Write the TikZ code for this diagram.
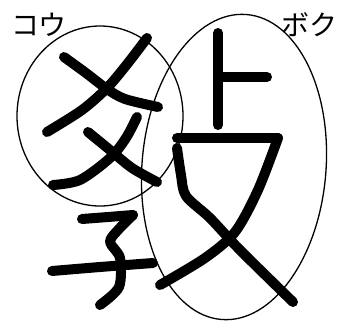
\documentclass[tikz,border=0pt]{standalone}
\usepackage{fontspec}
\newfontfamily\jp{Noto Sans CJK JP}
\begin{document}
\begin{tikzpicture}[x=1pt,y=-1pt,
  brush/.style={line width=10pt,line cap=round,line join=round},
  ring/.style={line width=1.3pt},
  kana/.style={font=\jp\fontsize{28}{28}\selectfont,inner sep=0pt}]
\useasboundingbox (0,0) rectangle (343,322);
% circles
\draw[ring] (100,116) ellipse [x radius=83, y radius=90];
\draw[ring] (234,167) ellipse [x radius=92, y radius=153, rotate=-4.7];
% labels
\node[kana] (kou) at (39,25) {コウ};
\node[kana] (boku) at (309,25) {ボク};
% 爻 upper
\draw[brush] plot[smooth] coordinates {(64,57) (86,73) (107,89) (125,99) (158,107)};
\draw[brush] plot[smooth] coordinates {(147,38) (128,63) (107,88) (82,110) (47,132)};
% 爻 lower
\draw[brush] plot[smooth] coordinates {(88,132) (110,150) (132,168) (157,182)};
\draw[brush] plot[smooth] coordinates {(137,117) (126,138) (110,158) (80,180) (53,185)};
% 子
\draw[brush] plot[smooth] coordinates {(82,219) (108,217) (133,215)};
\draw[brush] plot[smooth] coordinates {(133,215) (118,230) (110,242) (120,258) (119,287) (100,305)};
\draw[brush] plot[smooth] coordinates {(52,271) (100,267) (153,263)};
% 卜
\draw[brush] (218,33) -- (218,125);
\draw[brush] (218,77) -- (267,77);
% 乂
\draw[brush] (177,138) -- (278,138);
\draw[brush] plot[smooth] coordinates {(278,138) (258,190) (235,232) (205,258) (160,285)};
\draw[brush] plot[smooth] coordinates {(177,148) (181,175) (186,196) (210,218) (240,250) (293,302)};
\end{tikzpicture}
\end{document}
